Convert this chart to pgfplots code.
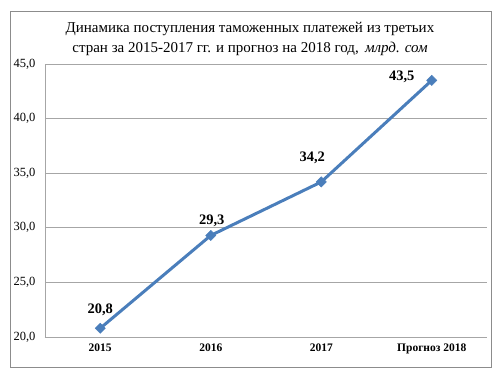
\documentclass[border=0pt]{standalone}
\usepackage{fontspec}
\setmainfont{Liberation Serif}
\usepackage{pgfplots}
\usepackage{pgfplotstable}
\pgfplotsset{compat=1.18}
\definecolor{lineblue}{HTML}{4A7EBB}
\definecolor{gridgray}{HTML}{A6A6A6}
\definecolor{framegray}{HTML}{8C8C8C}
\pgfplotstableread{
x y dx dy lab
0 20.8 0 18 20,8
1 29.3 1 15 29,3
2 34.2 -9 24 34,2
3 43.5 -30 4 43,5
}\datatab
\begin{document}
\begin{tikzpicture}
\path[use as bounding box] (-45pt,-49pt) rectangle (455pt,337pt);
\draw[framegray, line width=1pt] (-34pt,-30pt) rectangle (446pt,325pt);
\begin{axis}[
  at={(0,0)}, anchor=south west,
  scale only axis, width=442pt, height=273pt,
  xmin=-0.5, xmax=3.5, ymin=20, ymax=45,
  xtick={0,1,2,3},
  xticklabels={2015,2016,2017,Прогноз 2018},
  ytick={20,25,30,35,40,45},
  major tick length=0pt,
  axis x line*=bottom, axis y line*=left,
  axis line style={gridgray, line width=0.8pt},
  ymajorgrids, grid style={gridgray, line width=0.8pt},
  /pgf/number format/assume math mode=true,
  yticklabel style={font=\fontsize{12.5}{14}\selectfont, anchor=east, xshift=-6pt,
    /pgf/number format/.cd, fixed, fixed zerofill, precision=1, use comma},
  xticklabel style={font=\bfseries\fontsize{11.5}{13}\selectfont, yshift=-3pt},
  clip=false,
]
\addplot[lineblue, line width=3pt, mark=square*, mark size=3.6pt,
  mark options={fill=lineblue, draw=lineblue, line width=0.5pt, rotate=45},
  nodes near coords, point meta=explicit symbolic,
  visualization depends on={\thisrow{dx}\as\dx},
  visualization depends on={\thisrow{dy}\as\dy},
  every node near coord/.append style={font=\bfseries\fontsize{14.5}{16}\selectfont,
    black, anchor=center, xshift=\dx pt, yshift=\dy pt},
] table[x=x, y=y, meta=lab] {\datatab};
\end{axis}
\node[align=center, font=\fontsize{15}{20}\selectfont] at (205pt,298pt)
  {Динамика поступления таможенных платежей из третьих\\
   стран за 2015-2017 гг. и прогноз на 2018 год,\, \textit{млрд. сом}};
\end{tikzpicture}
\end{document}
